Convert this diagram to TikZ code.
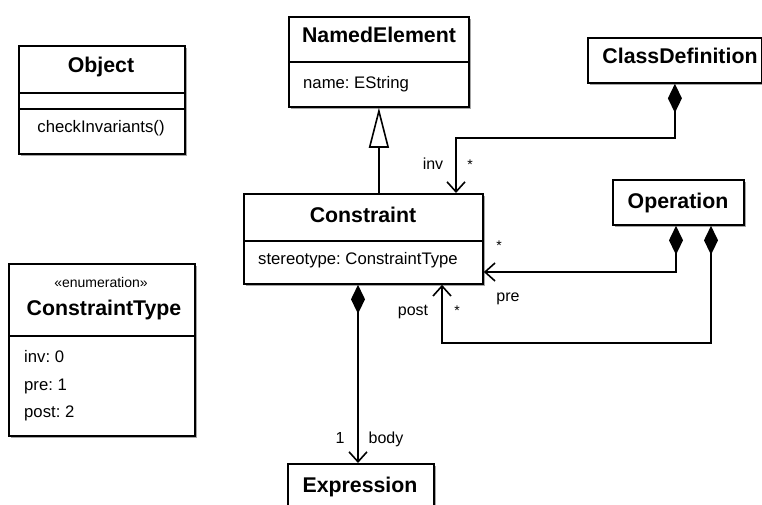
\documentclass[tikz,border=0pt]{standalone}
\usepackage{fontspec}
\setmainfont{Liberation Sans}
\usetikzlibrary{arrows.meta,shadows}
\frenchspacing
\begin{document}
\begin{tikzpicture}[x=1pt,y=-1pt,
  box/.style={draw, line width=1.8pt, fill=white, inner sep=0pt, anchor=north west,
    drop shadow={shadow xshift=2pt, shadow yshift=-2pt, fill=black, opacity=0.35}},
  divider/.style={line width=1.8pt},
  ttl/.style={font=\fontsize{21.3}{25}\selectfont\bfseries, anchor=base, inner sep=0pt},
  attr/.style={font=\fontsize{16.7}{20}\selectfont, anchor=base west, inner sep=0pt},
  attrc/.style={font=\fontsize{16.7}{20}\selectfont, anchor=base, inner sep=0pt},
  stereo/.style={font=\fontsize{14}{17}\selectfont, anchor=base, inner sep=0pt},
  lbl/.style={font=\fontsize{16}{19}\selectfont, anchor=base, inner sep=0pt},
  mult/.style={font=\fontsize{14}{17}\selectfont, anchor=base, inner sep=0pt},
  conn/.style={line width=1.6pt},
  comp/.style={conn, {Diamond[length=29pt,width=14pt]}-{Straight Barb[length=10pt,width=18pt]}},
  gen/.style={conn, -{Triangle[open,length=40pt,width=20pt,fill=white]}}
]
\clip (0,0) rectangle (762,505);

% Object
\node[box, minimum width=166pt, minimum height=108pt] (obj) at (18,45) {};
\draw[divider] (obj.west |- 0,93) -- (obj.east |- 0,93);
\draw[divider] (obj.west |- 0,109) -- (obj.east |- 0,109);
\node[ttl] (objt) at (101,73) {Object};
\node[attrc] (objop) at (101,133) {checkInvariants()};

% NamedElement
\node[box, minimum width=180pt, minimum height=90pt] (ne) at (288,16) {};
\draw[divider] (ne.west |- 0,62) -- (ne.east |- 0,62);
\node[ttl] (net) at (379,43) {NamedElement};
\node[attr] (nea) at (303,89) {name: EString};

% ClassDefinition
\node[box, minimum width=174pt, minimum height=45pt] (cd) at (587,37) {};
\node[ttl] (cdt) at (680,64) {ClassDefinition};

% Constraint
\node[box, minimum width=239pt, minimum height=90pt] (con) at (243,193) {};
\draw[divider] (con.west |- 0,241) -- (con.east |- 0,241);
\node[ttl] (cont) at (363,222) {Constraint};
\node[attr] (cona) at (258,264) {stereotype: ConstraintType};

% Operation
\node[box, minimum width=131pt, minimum height=45pt] (op) at (612,179) {};
\node[ttl] (opt) at (678,208) {Operation};

% ConstraintType
\node[box, minimum width=186pt, minimum height=172pt] (ct) at (8,263) {};
\draw[divider] (ct.west |- 0,336) -- (ct.east |- 0,336);
\node[stereo] (cts) at (101,287) {«enumeration»};
\node[ttl] (ctt) at (104,315) {ConstraintType};
\node[attr] (ct1) at (24,362) {inv: 0};
\node[attr] (ct2) at (24,390) {pre: 1};
\node[attr] (ct3) at (24,417) {post: 2};

% Expression
\node[box, minimum width=146pt, minimum height=70pt] (ex) at (287,463) {};
\node[ttl] (ext) at (360,492) {Expression};

% Generalization
\draw[gen] (ne.south |- con.north) -- (ne.south);

% inv
\coordinate (c1) at (456,138);
\draw[comp] (cd.south) |- (c1) -- (con.north -| c1);
\node[lbl] (linv) at (433,170) {inv};
\node[mult] (minv) at (470,170) {*};

% pre
\coordinate (p1) at (676,272);
\draw[comp] (op.south -| p1) |- (con.east |- p1);
\node[mult] (mpre) at (499,250) {*};
\node[lbl] (lpre) at (508,301) {pre};

% post
\coordinate (q1) at (711,343);
\coordinate (q2) at (442,343);
\draw[comp] (op.south -| q1) -- (q1) -- (q2) -- (con.south -| q2);
\node[lbl] (lpost) at (413,315) {post};
\node[mult] (mpost) at (457,315) {*};

% body
\coordinate (b1) at (358,463);
\draw[comp] (con.south -| b1) -- (ex.north -| b1);
\node[lbl] (lone) at (340,443) {1};
\node[lbl] (lbody) at (386,443) {body};
\end{tikzpicture}
\end{document}
